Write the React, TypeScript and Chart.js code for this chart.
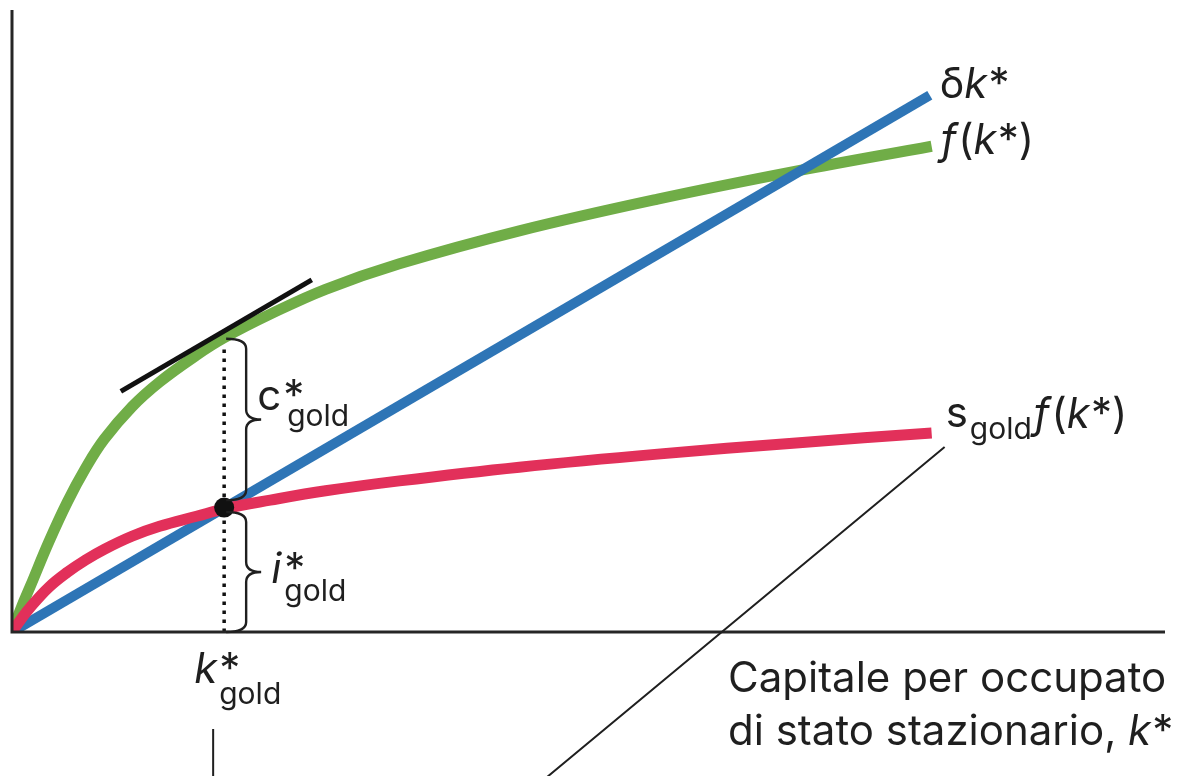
import React, { useEffect, useRef } from "react";
import { Chart, registerables } from "chart.js";

Chart.register(...registerables);

// Steady-state capital per worker k* at which the curves are sampled
const kValues = [0, 1, 2, 4, 6, 8, 10, 13, 16, 20, 23, 28, 34, 42, 55, 70, 85, 99.7];
// Output per worker f(k*)
const outputValues = [0, 3.9, 7.4, 14.5, 20.9, 26.4, 31.0, 36.2, 40.2, 44.5, 47.3, 51.1, 55.1, 59.2, 64.5, 69.6, 74.1, 78.1];
// Investment per worker s_gold f(k*)
const investmentValues = [0, 2.1, 4.0, 7.2, 9.6, 11.6, 13.3, 15.4, 17.0, 18.6, 19.8, 21.2, 22.7, 24.3, 26.5, 28.6, 30.4, 32.0];
// Depreciation δk*
const depreciationK = [0, 99.5];
const depreciationValues = [0, 86.3];
// Tangent to f(k*) at the golden-rule capital stock
const tangentK = [11.8, 32.5];
const tangentValues = [38.7, 56.6];
// Golden-rule values
const kGold = 23;
const fGold = 47.3;
const iGold = 20;
const dottedTop = 46.0;

const X_MAX = 125;
const Y_MAX = 100;

const GREEN = "#70ad47";
const BLUE = "#2e75b6";
const RED = "#e2305a";
const INK = "#1f1f1f";
const FONT = 'Inter, "Noto Sans", sans-serif';
const MAIN = 42;
const SUB = 30;

const pts = (xs: number[], ys: number[]) => xs.map((x, i) => ({ x, y: ys[i] }));

function txt(ctx: CanvasRenderingContext2D, s: string, x: number, y: number, size: number, italic = false) {
  ctx.font = `${italic ? "italic " : ""}${size}px ${FONT}`;
  ctx.fillText(s, x, y);
  return x + ctx.measureText(s).width;
}

// right-pointing curly brace between yTop and yBot
function brace(ctx: CanvasRenderingContext2D, x0: number, yTop: number, yBot: number) {
  const xv = x0 + 20;
  const xt = xv + 15;
  const r = 10;
  const yMid = (yTop + yBot) / 2;
  ctx.beginPath();
  ctx.moveTo(x0, yTop);
  ctx.quadraticCurveTo(xv, yTop, xv, yTop + r);
  ctx.lineTo(xv, yMid - r);
  ctx.quadraticCurveTo(xv, yMid, xt, yMid);
  ctx.quadraticCurveTo(xv, yMid, xv, yMid + r);
  ctx.lineTo(xv, yBot - r);
  ctx.quadraticCurveTo(xv, yBot, x0, yBot);
  ctx.stroke();
  return yMid;
}

const overlay = {
  id: "overlay",
  afterDatasetsDraw(chart: any) {
    const { ctx } = chart;
    const xs = chart.scales.x;
    const ys = chart.scales.y;
    const X = (v: number) => xs.getPixelForValue(v);
    const Y = (v: number) => ys.getPixelForValue(v);
    ctx.save();

    // axes
    ctx.strokeStyle = "#262626";
    ctx.lineWidth = 3;
    ctx.lineCap = "butt";
    ctx.beginPath();
    ctx.moveTo(X(0), Y(Y_MAX));
    ctx.lineTo(X(0), Y(0));
    ctx.lineTo(X(X_MAX), Y(0));
    ctx.stroke();

    // braces for consumption and investment
    ctx.strokeStyle = INK;
    ctx.lineWidth = 2.4;
    const xb = X(kGold) + 2;
    const cMid = brace(ctx, xb, Y(fGold) + 1, Y(iGold + 1.2));
    const iMid = brace(ctx, xb, Y(iGold - 0.7), Y(0));

    ctx.fillStyle = INK;
    ctx.textBaseline = "alphabetic";

    // c*_gold
    let e = txt(ctx, "c", X(kGold) + 33, cMid - 9, MAIN);
    txt(ctx, "*", e + 2, cMid - 9, MAIN);
    txt(ctx, "gold", e + 6, cMid + 7, SUB);

    // i*_gold
    e = txt(ctx, "i", X(kGold) + 47, iMid + 11, MAIN, true);
    txt(ctx, "*", e + 3, iMid + 11, MAIN);
    txt(ctx, "gold", e + 3, iMid + 29, SUB);

    // k*_gold under the axis
    const y0 = Y(0);
    e = txt(ctx, "k", X(kGold) - 30, y0 + 51, MAIN, true);
    txt(ctx, "*", e + 2, y0 + 51, MAIN);
    txt(ctx, "gold", e + 2, y0 + 72, SUB);

    // curve labels
    const bx = X(depreciationK[1]);
    const by = Y(depreciationValues[1]);
    e = txt(ctx, "δ", bx + 10, by + 3, MAIN);
    e = txt(ctx, "k", e, by + 3, MAIN, true);
    txt(ctx, "*", e + 1, by + 3, MAIN);

    const last = kValues.length - 1;
    const gx = X(kValues[last]);
    const gy = Y(outputValues[last]);
    e = txt(ctx, "f", gx + 9, gy + 8, MAIN, true);
    e = txt(ctx, "(", e + 2, gy + 8, MAIN);
    e = txt(ctx, "k", e, gy + 8, MAIN, true);
    e = txt(ctx, "*", e + 1, gy + 8, MAIN);
    txt(ctx, ")", e, gy + 8, MAIN);

    const rx = X(kValues[last]);
    const ry = Y(investmentValues[last]);
    const sx = rx + 14;
    const sy = ry - 6;
    e = txt(ctx, "s", sx, sy, MAIN);
    e = txt(ctx, "gold", e + 2, sy + 12, SUB);
    e = txt(ctx, "f", e + 2, sy + 1, MAIN, true);
    e = txt(ctx, "(", e + 2, sy + 1, MAIN);
    e = txt(ctx, "k", e, sy + 1, MAIN, true);
    e = txt(ctx, "*", e + 1, sy + 1, MAIN);
    txt(ctx, ")", e, sy + 1, MAIN);

    // axis title
    txt(ctx, "Capitale per occupato", 728, y0 + 60, MAIN);
    e = txt(ctx, "di stato stazionario, ", 728, y0 + 113, MAIN);
    e = txt(ctx, "k", e, y0 + 113, MAIN, true);
    txt(ctx, "*", e + 1, y0 + 113, MAIN);

    // leader lines
    ctx.strokeStyle = INK;
    ctx.lineWidth = 2;
    ctx.beginPath();
    const lx = X(kGold) - 11;
    ctx.moveTo(lx, y0 + 97);
    ctx.lineTo(lx, y0 + 160);
    ctx.moveTo(sx - 1, sy + 20);
    ctx.lineTo(sx - 1 - 430, sy + 20 + 357);
    ctx.stroke();

    ctx.restore();
  },
};

export default function App() {
  const ref = useRef<HTMLCanvasElement | null>(null);

  useEffect(() => {
    if (!ref.current) return;
    const line = { showLine: true, pointRadius: 0, fill: false, borderCapStyle: "butt" as const };
    const chart = new Chart(ref.current, {
      type: "scatter",
      data: {
        datasets: [
          {
            label: "golden rule",
            data: [{ x: kGold, y: iGold }],
            showLine: false,
            pointRadius: 10,
            pointBackgroundColor: "#111",
            pointBorderWidth: 0,
            order: 0,
          },
          {
            ...line,
            label: "tangent",
            data: pts(tangentK, tangentValues),
            borderColor: "#111",
            borderWidth: 5,
            order: 1,
          },
          {
            ...line,
            label: "s_gold f(k*)",
            data: pts(kValues, investmentValues),
            borderColor: RED,
            borderWidth: 11,
            tension: 0.4,
            order: 2,
          },
          {
            ...line,
            label: "δk*",
            data: pts(depreciationK, depreciationValues),
            borderColor: BLUE,
            borderWidth: 10,
            order: 3,
          },
          {
            ...line,
            label: "f(k*)",
            data: pts(kValues, outputValues),
            borderColor: GREEN,
            borderWidth: 11,
            tension: 0.4,
            order: 4,
          },
          {
            ...line,
            label: "k*_gold",
            data: [
              { x: kGold, y: 0 },
              { x: kGold, y: dottedTop },
            ],
            borderColor: "#111",
            borderWidth: 3.5,
            borderDash: [3.5, 5.5],
            order: 5,
          },
        ],
      },
      options: {
        animation: false,
        responsive: true,
        maintainAspectRatio: false,
        events: [],
        layout: { padding: { left: 12, top: 10, right: 20, bottom: 144 } },
        plugins: { legend: { display: false }, tooltip: { enabled: false }, title: { display: false } },
        scales: {
          x: { type: "linear", min: 0, max: X_MAX, display: false },
          y: { type: "linear", min: 0, max: Y_MAX, display: false },
        },
      },
      plugins: [overlay],
    });
    if ((document as any).fonts?.ready) {
      (document as any).fonts.ready.then(() => chart.update());
    }
    return () => chart.destroy();
  }, []);

  return (
    <div style={{ position: "fixed", left: 0, top: 0, width: 1185, height: 776, background: "#fff" }}>
      <canvas ref={ref} />
    </div>
  );
}
